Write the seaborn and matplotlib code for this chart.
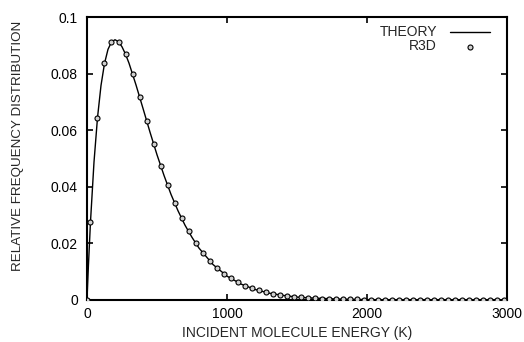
import matplotlib
matplotlib.use('Agg')
import numpy as np
import pandas as pd
import matplotlib.pyplot as plt
import seaborn as sns

# theory curve
theory_e = [0, 10, 25, 50, 75, 100, 125, 150, 175, 200, 225, 250, 275, 300,
            350, 400, 450, 500, 550, 600, 650, 700, 750, 800, 900, 1000,
            1100, 1200, 1300, 1400, 1500, 1600, 1800, 2000, 2200, 2500, 3000]
theory_f = [0.0, 0.0119, 0.0276, 0.0487, 0.0644, 0.0758, 0.0836, 0.0886,
            0.0912, 0.0920, 0.0913, 0.0895, 0.0869, 0.0837, 0.0760, 0.0677,
            0.0593, 0.0513, 0.0440, 0.0373, 0.0315, 0.0264, 0.0221, 0.0183,
            0.0125, 0.0084, 0.0056, 0.0037, 0.0024, 0.0016, 0.0010, 0.0007,
            0.0003, 0.0001, 0.00005, 0.00001, 0.0]

# R3D simulation points (bin centres)
r3d_e = [0] + list(range(25, 3000, 50))
r3d_f = [0.0,
         0.0276, 0.0644, 0.0836, 0.0912, 0.0913, 0.0869, 0.0800, 0.0719,
         0.0634, 0.0552, 0.0475, 0.0406, 0.0343, 0.0289, 0.0242, 0.0201,
         0.0167, 0.0138, 0.0113, 0.0093, 0.0076, 0.0062, 0.0051, 0.0041,
         0.0034, 0.0027, 0.0022, 0.0018, 0.0014, 0.0012, 0.0009, 0.0008,
         0.0006, 0.0005, 0.0004, 0.0003, 0.0003, 0.0002, 0.0002, 0.0001,
         0.0001, 0.0001, 0.0001, 0.0, 0.0, 0.0, 0.0, 0.0, 0.0, 0.0,
         0.0, 0.0, 0.0, 0.0, 0.0, 0.0, 0.0, 0.0, 0.0, 0.0]

theory = pd.DataFrame({'energy': theory_e, 'freq': theory_f})
r3d = pd.DataFrame({'energy': r3d_e, 'freq': r3d_f})

sns.set_style('ticks')
plt.rcParams['font.family'] = ['Liberation Sans', 'DejaVu Sans']
FS = 10

fig = plt.figure(figsize=(5.24, 3.42), dpi=100)
ax = fig.add_axes([0.166, 0.123, 0.802, 0.827])

sns.lineplot(data=theory, x='energy', y='freq', ax=ax, color='black',
             linewidth=1.0, label='THEORY')
sns.scatterplot(data=r3d, x='energy', y='freq', ax=ax, marker='o', s=13,
                facecolor='#d0d0d0', edgecolor='black', linewidth=0.8,
                label='R3D', zorder=3)

ax.set_xlim(0, 3000)
ax.set_ylim(0, 0.1)
ax.set_xticks([0, 1000, 2000, 3000])
ax.set_yticks([0, 0.02, 0.04, 0.06, 0.08, 0.1])
ax.set_yticklabels(['0', '0.02', '0.04', '0.06', '0.08', '0.1'])
ax.tick_params(direction='in', length=4, width=1.2, labelsize=FS,
               top=True, right=True, colors='black')
ax.tick_params(axis='y', pad=6.5)
ax.tick_params(axis='x', pad=5)
for s in ax.spines.values():
    s.set_linewidth(1.5)
    s.set_color('black')

ax.set_xlabel('INCIDENT MOLECULE ENERGY (K)', fontsize=FS, labelpad=4)
ax.set_ylabel('RELATIVE FREQUENCY DISTRIBUTION', fontsize=9.6)
ax.yaxis.set_label_coords(-0.15, 0.546)

leg = ax.legend(loc='upper right', bbox_to_anchor=(0.973, 0.99),
                borderaxespad=0, frameon=False, markerfirst=False,
                fontsize=FS, handlelength=2.9, handletextpad=0.95,
                labelspacing=0.0)

fig.savefig('out.png', dpi=100)
